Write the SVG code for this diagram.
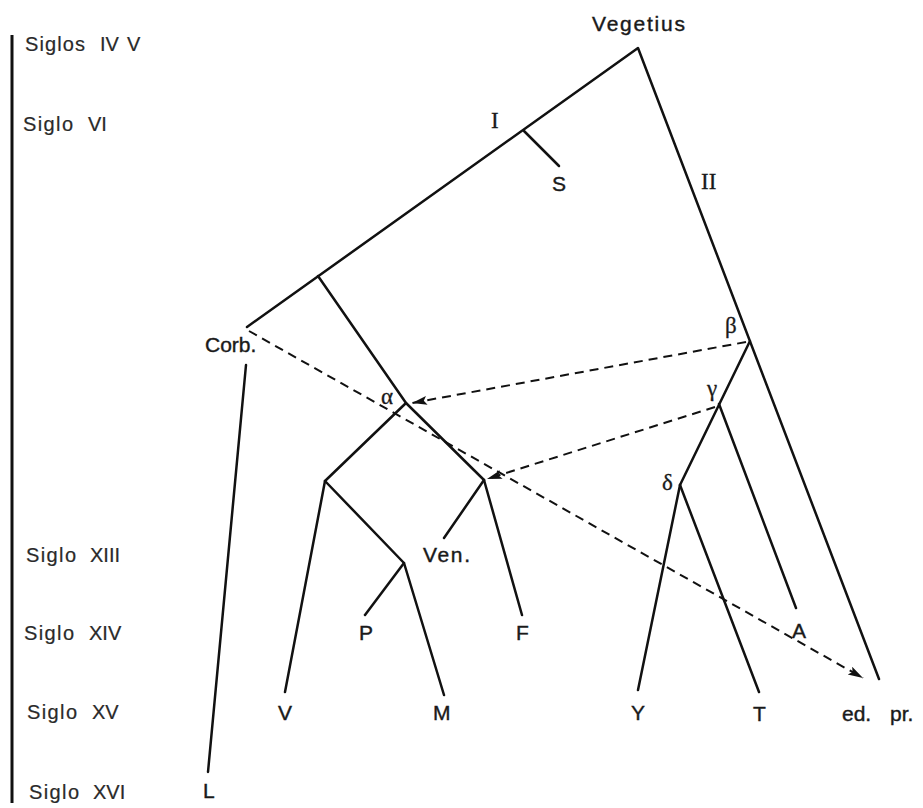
<svg xmlns="http://www.w3.org/2000/svg" width="923" height="808" viewBox="0 0 923 808">
  <defs>
    <marker id="arrow" markerUnits="userSpaceOnUse" markerWidth="16" markerHeight="10" refX="15" refY="4.5" orient="auto">
      <path d="M0,0 L15,4.5 L0,9 L3,4.5 z" fill="#111"/>
    </marker>
  </defs>
  <style>
    .ln { fill: none; stroke: #111; stroke-width: 2.5; stroke-linecap: round; stroke-linejoin: round; }
    .dash { fill: none; stroke: #111; stroke-width: 2; stroke-dasharray: 9 6; marker-end: url(#arrow); }
    .lbl { font-family: "Liberation Sans", Arial, sans-serif; font-size: 21px; fill: #1a1a1a; stroke: #1a1a1a; stroke-width: 0.4; }
    .era { font-family: "Liberation Sans", Arial, sans-serif; font-size: 20px; fill: #2a2a2a; stroke: #2a2a2a; stroke-width: 0.2; }
    .grk { font-family: "Liberation Serif", "DejaVu Serif", serif; font-size: 23px; fill: #1a1a1a; stroke: #1a1a1a; stroke-width: 0.3; }
  </style>
  <rect width="923" height="808" fill="#ffffff"/>

  <!-- time scale -->
  <g id="timescale">
    <line x1="12" y1="35" x2="12" y2="803" stroke="#111" stroke-width="3"/>
    <text class="era"><tspan x="25" y="51" textLength="60">Siglos</tspan><tspan x="100" y="51">IV</tspan><tspan x="127" y="51">V</tspan></text>
    <text class="era"><tspan x="23" y="131" textLength="50">Siglo</tspan><tspan x="88" y="131">VI</tspan></text>
    <text class="era"><tspan x="26" y="562" textLength="50">Siglo</tspan><tspan x="90" y="562">XIII</tspan></text>
    <text class="era"><tspan x="24" y="640" textLength="50">Siglo</tspan><tspan x="89" y="640">XIV</tspan></text>
    <text class="era"><tspan x="27" y="719" textLength="50">Siglo</tspan><tspan x="92" y="719">XV</tspan></text>
    <text class="era"><tspan x="29" y="799" textLength="50">Siglo</tspan><tspan x="93" y="799">XVI</tspan></text>
  </g>

  <!-- stemma branches -->
  <g id="connectors">
    <polyline class="ln" points="247,327 638,48 879,679"/>
    <line class="ln" x1="524" y1="131" x2="559" y2="166"/>
    <polyline class="ln" points="318,276 406,403 484,480"/>
    <polyline class="ln" points="406,403 325,481 285,692"/>
    <polyline class="ln" points="325,481 404,563 444,695"/>
    <line class="ln" x1="404" y1="563" x2="365" y2="615"/>
    <line class="ln" x1="484" y1="480" x2="444" y2="538"/>
    <line class="ln" x1="484" y1="480" x2="522" y2="615"/>
    <line class="ln" x1="246" y1="365" x2="208" y2="772"/>
    <line class="ln" x1="750" y1="341" x2="680" y2="485"/>
    <line class="ln" x1="719" y1="404" x2="796" y2="608"/>
    <line class="ln" x1="680" y1="485" x2="638" y2="690"/>
    <line class="ln" x1="680" y1="485" x2="759" y2="692"/>
    <!-- contamination -->
    <line class="dash" x1="249" y1="331" x2="863" y2="678"/>
    <line class="dash" x1="746" y1="342" x2="412" y2="403"/>
    <line class="dash" x1="715" y1="407" x2="487" y2="479"/>
  </g>

  <g id="vegetius"><text class="lbl" x="592" y="31" textLength="93">Vegetius</text></g>
  <g id="hyp-I"><text class="grk" x="491" y="128">I</text></g>
  <g id="hyp-II"><text class="grk" x="701" y="189">II</text></g>
  <g id="ms-S"><text class="lbl" x="552" y="191">S</text></g>
  <g id="ms-Corb"><text class="lbl" x="205" y="352">Corb.</text></g>
  <g id="hyp-alpha"><text class="grk" x="381" y="404">α</text></g>
  <g id="hyp-beta"><text class="grk" x="725" y="333">β</text></g>
  <g id="hyp-gamma"><text class="grk" x="707" y="396">γ</text></g>
  <g id="hyp-delta"><text class="grk" x="662" y="490">δ</text></g>
  <g id="ms-Ven"><text class="lbl" x="423" y="562" textLength="47">Ven.</text></g>
  <g id="ms-P"><text class="lbl" x="359" y="640">P</text></g>
  <g id="ms-F"><text class="lbl" x="516" y="640">F</text></g>
  <g id="ms-A"><text class="lbl" x="792" y="638">A</text></g>
  <g id="ms-V"><text class="lbl" x="278" y="720">V</text></g>
  <g id="ms-M"><text class="lbl" x="433" y="720">M</text></g>
  <g id="ms-Y"><text class="lbl" x="631" y="720">Y</text></g>
  <g id="ms-T"><text class="lbl" x="753" y="721">T</text></g>
  <g id="ed-pr"><text class="lbl"><tspan x="842" y="721">ed.</tspan><tspan x="890" y="721">pr.</tspan></text></g>
  <g id="ms-L"><text class="lbl" x="203" y="798">L</text></g>
</svg>
